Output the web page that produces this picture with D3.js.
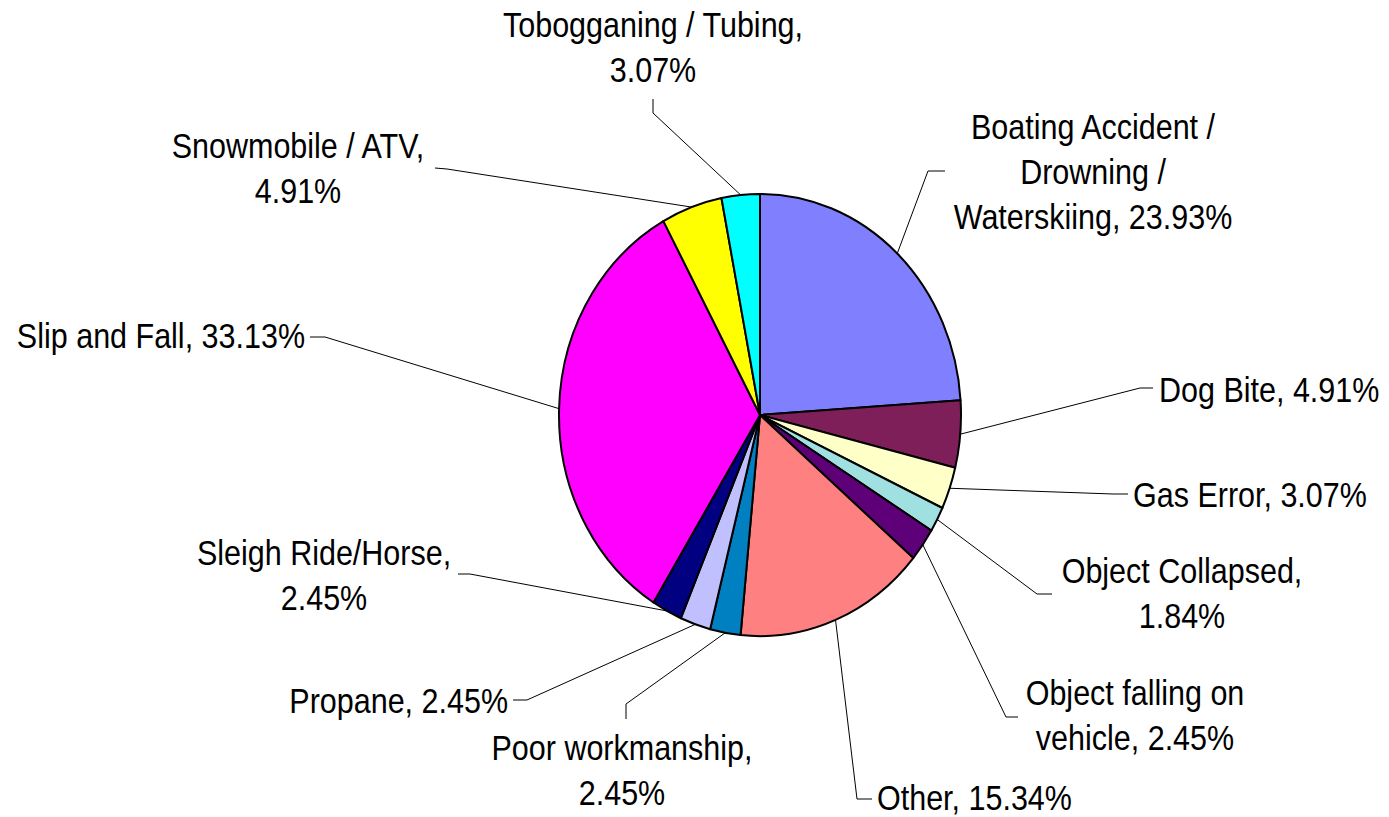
<!DOCTYPE html>
<html>
<head>
<meta charset="utf-8">
<script src="https://cdn.jsdelivr.net/npm/d3@7"></script>
<style>
  html, body { margin: 0; padding: 0; background: #fff; }
  svg { display: block; }
  text { font-family: "Liberation Sans", Arial, sans-serif; fill: #000; }
</style>
</head>
<body>
<div id="chart"></div>
<script>
// ---- Data ----
const categories = [
  "Boating Accident / Drowning / Waterskiing",
  "Dog Bite",
  "Gas Error",
  "Object Collapsed",
  "Object falling on vehicle",
  "Other",
  "Poor workmanship",
  "Propane",
  "Sleigh Ride/Horse",
  "Slip and Fall",
  "Snowmobile / ATV",
  "Tobogganing / Tubing"
];
const values = [23.93, 4.91, 3.07, 1.84, 2.45, 15.34, 2.45, 2.45, 2.45, 33.13, 4.91, 3.07];
const colors = ["#8080FF", "#7F1F5A", "#FFFFC8", "#A0E0E0", "#5E0078", "#FF8080",
                "#0080C0", "#C0C0FF", "#000080", "#FF00FF", "#FFFF00", "#00FFFF"];
// label text lines (as wrapped in the chart)
const labelLines = [
  ["Boating Accident /", "Drowning /", "Waterskiing, 23.93%"],
  ["Dog Bite, 4.91%"],
  ["Gas Error, 3.07%"],
  ["Object Collapsed,", "1.84%"],
  ["Object falling on", "vehicle, 2.45%"],
  ["Other, 15.34%"],
  ["Poor workmanship,", "2.45%"],
  ["Propane, 2.45%"],
  ["Sleigh Ride/Horse,", "2.45%"],
  ["Slip and Fall, 33.13%"],
  ["Snowmobile / ATV,", "4.91%"],
  ["Tobogganing / Tubing,", "3.07%"]
];

// ---- Layout (label placement, leader elbows) ----
const W = 1389, H = 817;
const cx = 760, cy = 415, R = 201, ySquash = 1.1;
const fontSize = 30.5, textScaleY = 1.13, lineGap = 45;
// [anchor, x, firstBaseline, elbowX, elbowY, endX, endY]
const labelLayout = [
  ["middle", 1093, 139, 928, 171, 945, 171],
  ["start", 1159, 402, 1140, 388, 1153, 388],
  ["start", 1133, 507, 1113, 494, 1128, 494],
  ["middle", 1182, 583, 1037, 594, 1052, 594],
  ["middle", 1135, 705, 1006, 717, 1018, 717],
  ["start", 877, 810, 857, 799, 872, 799],
  ["middle", 622, 760, 626, 704, 626, 719],
  ["end", 508, 713, 527, 700, 513, 700],
  ["middle", 324, 565, 470, 574, 458, 574],
  ["end", 305, 348, 325, 337, 310, 337],
  ["middle", 298, 158, 447, 169, 435, 168],
  ["middle", 653, 37, 653, 113, 653, 99]
];

const svg = d3.select("#chart").append("svg")
  .attr("width", W).attr("height", H);

const data = categories.map((c, i) => ({ name: c, value: values[i], color: colors[i], lines: labelLines[i], lay: labelLayout[i] }));

const pie = d3.pie().value(d => d.value).sort(null);
const arcs = pie(data);
const arc = d3.arc().innerRadius(0).outerRadius(R);

// leader lines (drawn first so pie covers ends)
const leaders = svg.append("g");
arcs.forEach(a => {
  const mid = (a.startAngle + a.endAngle) / 2;
  const px = cx + R * Math.sin(mid);
  const py = cy - R * Math.cos(mid) * ySquash;
  const L = a.data.lay;
  leaders.append("polyline")
    .attr("points", `${px},${py} ${L[3]},${L[4]} ${L[5]},${L[6]}`)
    .attr("fill", "none")
    .attr("stroke", "#000")
    .attr("stroke-width", 1);
});

const pg = svg.append("g")
  .attr("transform", `translate(${cx},${cy}) scale(1,${ySquash})`);
pg.selectAll("path").data(arcs).join("path")
  .attr("d", arc)
  .attr("fill", d => d.data.color)
  .attr("stroke", "#000")
  .attr("stroke-width", 2)
  .attr("stroke-linejoin", "round")
  .style("vector-effect", "non-scaling-stroke");

// labels
const lg = svg.append("g");
data.forEach(d => {
  const L = d.lay;
  const t = lg.append("text")
    .attr("transform", `translate(${L[1]},${L[2]}) scale(1,${textScaleY})`)
    .attr("text-anchor", L[0])
    .attr("font-size", fontSize);
  d.lines.forEach((ln, i) => {
    t.append("tspan").attr("x", 0).attr("y", i * lineGap / textScaleY).text(ln);
  });
});
</script>
</body>
</html>
